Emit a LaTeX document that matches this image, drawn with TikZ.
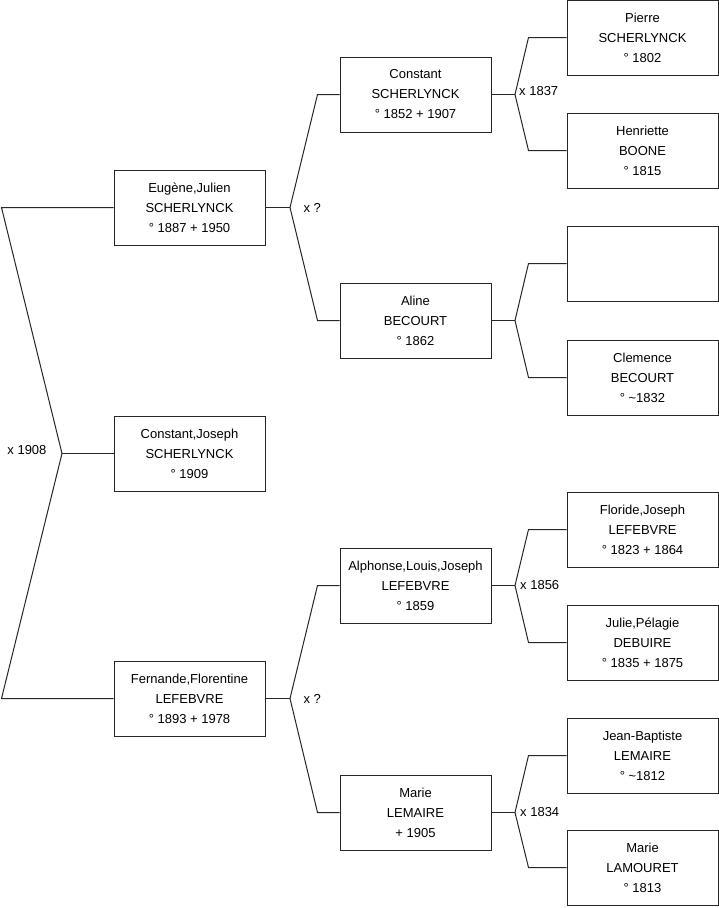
\documentclass[tikz,border=0pt]{standalone}
\usepackage{fontspec}
\setmainfont{Liberation Sans}
\usetikzlibrary{calc}
\begin{document}
\begin{tikzpicture}[
        x=1pt, y=-1pt,
        font=\fontsize{13}{20}\selectfont,
        person/.style={
            rectangle, draw=black!85, line width=1pt,
            minimum width=151pt, minimum height=75pt,
            align=center, inner sep=0pt
        },
        link/.style={draw=black!85, line width=1pt},
        wed/.style={font=\fontsize{13}{15}\selectfont}
    ]
    \useasboundingbox (0,0) rectangle (719,908);

    % Generation 1 and 2
    \node[person] (eug) at (189.5,207.5) {Eugène,Julien\\SCHERLYNCK\\° 1887 + 1950};
    \node[person] (cjo) at (189.5,453.5) {Constant,Joseph\\SCHERLYNCK\\° 1909};
    \node[person] (fer) at (189.5,698.5) {Fernande,Florentine\\LEFEBVRE\\° 1893 + 1978};

    % Generation 3
    \node[person] (con) at (415.5,94.5)  {Constant\\SCHERLYNCK\\° 1852 + 1907};
    \node[person] (ali) at (415.5,320.5) {Aline\\BECOURT\\° 1862};
    \node[person] (alp) at (415.5,585.5) {Alphonse,Louis,Joseph\\LEFEBVRE\\° 1859};
    \node[person] (mle) at (415.5,812.5) {Marie\\LEMAIRE\\+ 1905};

    % Generation 4
    \node[person] (pie) at (642.5,37.5)  {Pierre\\SCHERLYNCK\\° 1802};
    \node[person] (hen) at (642.5,150.5) {Henriette\\BOONE\\° 1815};
    \node[person] (unk) at (642.5,263.5) {};
    \node[person] (cle) at (642.5,377.5) {Clemence\\BECOURT\\° \textasciitilde1832};
    \node[person] (flo) at (642.5,529.5) {Floride,Joseph\\LEFEBVRE\\° 1823 + 1864};
    \node[person] (jul) at (642.5,642.5) {Julie,Pélagie\\DEBUIRE\\° 1835 + 1875};
    \node[person] (jea) at (642.5,755.5) {Jean-Baptiste\\LEMAIRE\\° \textasciitilde1812};
    \node[person] (lam) at (642.5,867.5) {Marie\\LAMOURET\\° 1813};

    % Marriage forks
    \coordinate (w0) at (62,453.5);
    \coordinate (w1) at (290,207.5);
    \coordinate (w2) at (290,698.5);
    \coordinate (w3) at (515,94.5);
    \coordinate (w4) at (515,320.5);
    \coordinate (w5) at (515,585.5);
    \coordinate (w6) at (515,812.5);

    \draw[link] (cjo.west) -- (w0);
    \draw[link] (eug.west) -- ++(-112,0) -- (w0) -- ([xshift=-112pt]fer.west) -- (fer.west);

    \draw[link] (eug.east) -- (w1);
    \draw[link] (con.west) -- ++(-22,0) -- (w1) -- ([xshift=-22pt]ali.west) -- (ali.west);
    \draw[link] (fer.east) -- (w2);
    \draw[link] (alp.west) -- ++(-22,0) -- (w2) -- ([xshift=-22pt]mle.west) -- (mle.west);

    \draw[link] (con.east) -- (w3);
    \draw[link] (pie.west) -- ++(-38,0) -- (w3) -- ([xshift=-38pt]hen.west) -- (hen.west);
    \draw[link] (ali.east) -- (w4);
    \draw[link] (unk.west) -- ++(-38,0) -- (w4) -- ([xshift=-38pt]cle.west) -- (cle.west);
    \draw[link] (alp.east) -- (w5);
    \draw[link] (flo.west) -- ++(-38,0) -- (w5) -- ([xshift=-38pt]jul.west) -- (jul.west);
    \draw[link] (mle.east) -- (w6);
    \draw[link] (jea.west) -- ++(-38,0) -- (w6) -- ([xshift=-38pt]lam.west) -- (lam.west);

    % Marriage dates
    \node[wed, anchor=east] (d0) at ([xshift=-12pt,yshift=3pt]w0) {x 1908};
    \node[wed, anchor=west] (d1) at ([xshift=10pt]w1) {x ?};
    \node[wed, anchor=west] (d2) at ([xshift=10pt]w2) {x ?};
    \node[wed, anchor=west, inner sep=1pt] (d3) at ([xshift=3pt,yshift=3pt]w3) {x 1837};
    \node[wed, anchor=west, inner sep=1pt] (d5) at ([xshift=4pt]w5) {x 1856};
    \node[wed, anchor=west, inner sep=1pt] (d6) at ([xshift=4pt]w6) {x 1834};

\end{tikzpicture}
\end{document}
